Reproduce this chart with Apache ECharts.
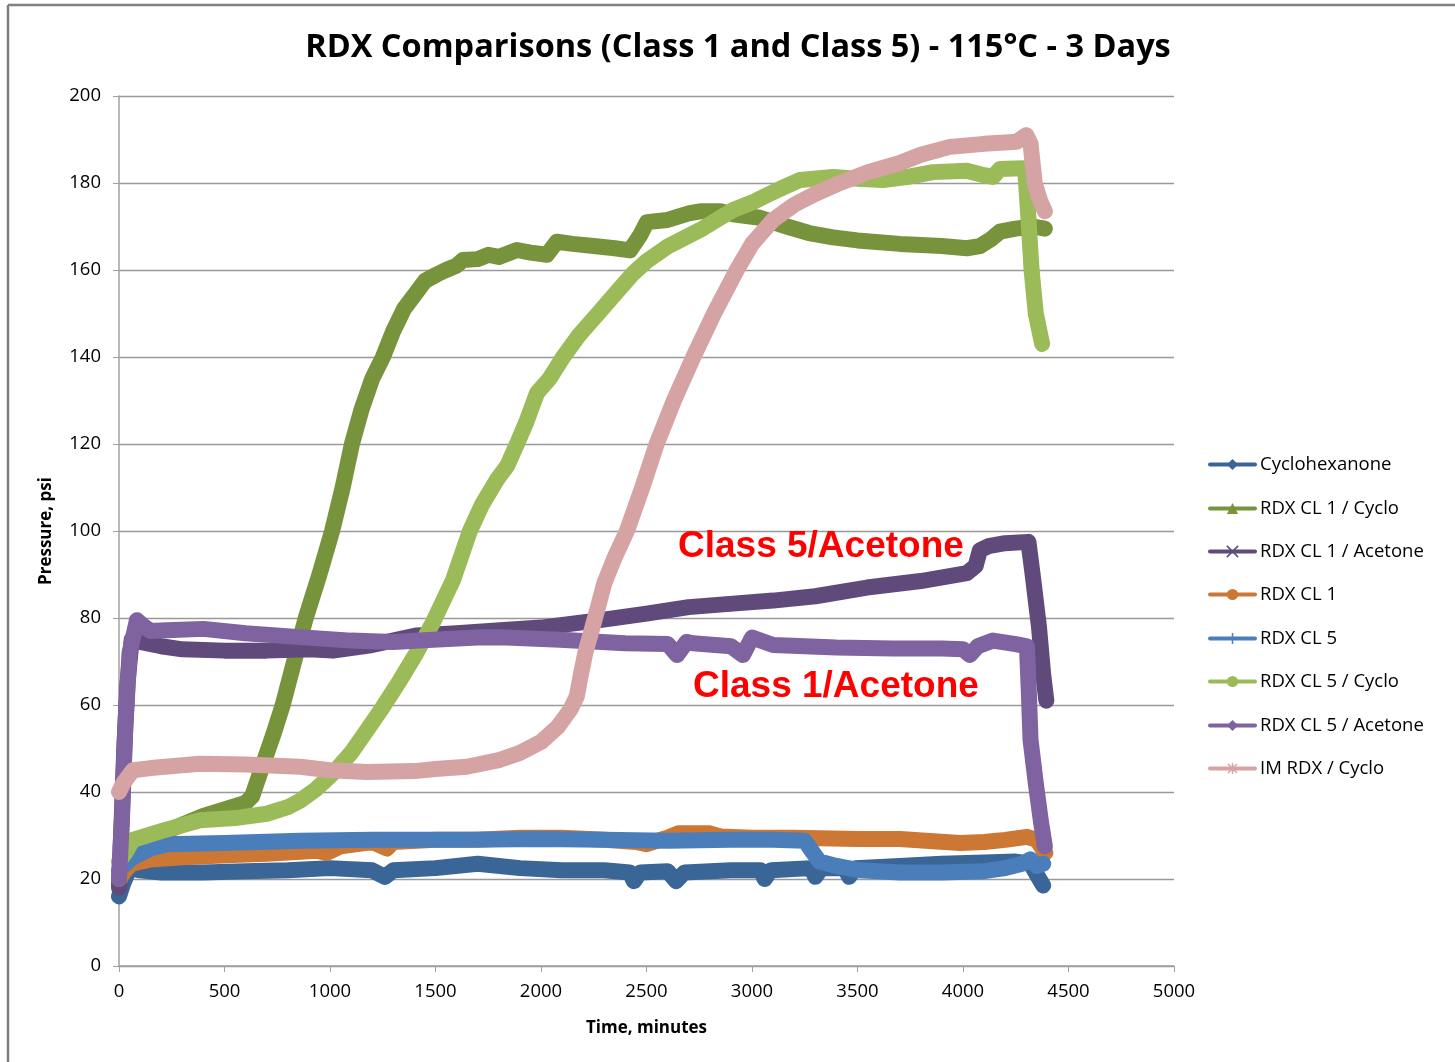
<!DOCTYPE html>
<html>
<head>
<meta charset="utf-8">
<script src="https://cdn.jsdelivr.net/npm/echarts@6/dist/echarts.min.js"></script>
<style>
html,body{margin:0;padding:0;background:#fff;}
#chart{width:1455px;height:1062px;}
</style>
</head>
<body>
<div id="chart"></div>
<script>
// ---- data (minutes, psi) ----
const seriesNames = ['Cyclohexanone','RDX CL 1 / Cyclo','RDX CL 1 / Acetone','RDX CL 1','RDX CL 5','RDX CL 5 / Cyclo','RDX CL 5 / Acetone','IM RDX / Cyclo'];
const xTicks = [0,500,1000,1500,2000,2500,3000,3500,4000,4500,5000];
const yTicks = [0,20,40,60,80,100,120,140,160,180,200];

const cyclohexanone = [[0,16],[20,19],[50,22.5],[100,22],[200,21.5],[400,21.5],[600,21.8],[800,22],[1000,22.5],[1200,22],[1260,20.5],[1300,22],[1500,22.5],[1700,23.5],[1900,22.5],[2100,22],[2300,22],[2420,21.5],[2440,19.5],[2470,21.5],[2600,21.8],[2640,19.5],[2680,21.5],[2900,22],[3040,22],[3060,20],[3090,22],[3280,22.5],[3300,20.5],[3330,22.5],[3440,22.5],[3460,20.5],[3490,22.5],[3700,23],[3900,23.5],[4100,23.8],[4250,24],[4320,23.5],[4350,21],[4380,18.5]];

const rdxCl1Cyclo = [[0,19],[30,24],[60,27.5],[100,29],[200,30.5],[300,32.5],[400,34.5],[500,36],[600,37.5],[631,39],[680,46],[730,53],[776,60],[830,70],[885,80],[950,90],[1010,100],[1060,110],[1104,120],[1150,128],[1200,135],[1251,140],[1300,146],[1350,151],[1412,155],[1450,157.5],[1507,159],[1550,160],[1600,161],[1630,162.3],[1700,162.5],[1750,163.5],[1800,163],[1886,164.6],[1950,164],[2028,163.5],[2075,166.5],[2150,166],[2250,165.5],[2350,165],[2422,164.5],[2470,168],[2502,171],[2600,171.5],[2700,173],[2754,173.5],[2850,173.5],[2910,172.8],[3038,172],[3100,171],[3165,170],[3270,168.5],[3384,167.5],[3500,166.8],[3701,166],[3900,165.5],[4018,165],[4080,165.5],[4130,167],[4175,168.8],[4250,169.5],[4332,170],[4388,169.5]];

const rdxCl1Acetone = [[0,18],[10,30],[25,50],[40,65],[60,75],[100,74.5],[200,73.5],[300,72.8],[500,72.5],[700,72.5],[900,72.8],[1014,72.5],[1200,73.8],[1412,76],[1600,76.5],[1806,77.2],[2000,77.8],[2280,79.5],[2500,81],[2700,82.5],[2910,83.3],[3100,84],[3300,85],[3545,87],[3800,88.5],[4018,90.3],[4060,92],[4080,95.6],[4120,96.5],[4200,97.2],[4310,97.5],[4330,90],[4360,78],[4380,67],[4395,61]];

const rdxCl1 = [[0,20],[30,22],[60,23.5],[150,24.5],[300,25],[540,25.5],[700,25.8],[937,26.5],[985,26],[1050,27.5],[1200,28.5],[1270,27],[1300,28.5],[1500,29],[1700,29],[1900,29.5],[2100,29.5],[2300,29],[2450,28.5],[2500,28],[2600,29.5],[2650,30.5],[2800,30.5],[2850,29.8],[3000,29.5],[3200,29.5],[3500,29.2],[3700,29.2],[3986,28.3],[4100,28.5],[4200,29],[4303,29.7],[4350,29],[4390,26]];

const rdxCl5 = [[0,22],[30,23.5],[66,25],[150,27],[227,28],[500,28.3],[858,28.8],[1200,29],[1649,29],[2000,29.2],[2300,29],[2600,28.8],[2900,29],[3100,29],[3250,28.8],[3290,26],[3320,24],[3400,23],[3512,22],[3700,21.5],[3900,21.5],[4100,21.8],[4200,22.5],[4280,23.5],[4320,24.5],[4350,23],[4380,23.5]];

const rdxCl5Cyclo = [[0,24],[30,26],[66,29],[200,31],[384,33.5],[550,34],[700,35],[800,36.5],[858,38],[930,40.5],[1014,44.3],[1100,49],[1175,54.2],[1250,59.5],[1332,65.7],[1410,72],[1488,79],[1583,88.7],[1663,100],[1720,106],[1790,111.7],[1840,115],[1886,120],[1930,125],[1981,131.7],[2040,135],[2105,140],[2180,145],[2280,150.5],[2360,155],[2436,159.2],[2500,162],[2597,165.3],[2754,169.2],[2910,173.8],[3000,175.5],[3071,177.2],[3150,179],[3227,180.7],[3384,181.4],[3500,181],[3621,180.7],[3750,181.5],[3858,182.5],[4018,182.8],[4100,181.8],[4142,181.4],[4175,183.2],[4285,183.4],[4295,183],[4310,172],[4325,160],[4345,150],[4375,143]];

const rdxCl5Acetone = [[0,20],[15,35],[30,55],[50,72],[85,79.5],[120,78],[150,77],[227,77.2],[400,77.5],[600,76.5],[858,75.6],[1100,74.8],[1300,74.5],[1488,75],[1700,75.5],[1806,75.6],[2090,75],[2400,74.2],[2600,74],[2645,71.5],[2690,74.5],[2720,74.2],[2900,73.5],[2957,71.5],[3000,75.5],[3100,73.8],[3400,73.2],[3668,73],[3900,73],[4000,72.8],[4033,71.5],[4070,73.5],[4142,74.8],[4250,74],[4303,73.5],[4312,63],[4320,52],[4345,42],[4370,33],[4388,27.5]];

const imRdxCyclo = [[0,40],[20,42],[66,45],[150,45.5],[384,46.5],[600,46.3],[858,45.8],[1000,45],[1175,44.6],[1400,44.8],[1500,45.3],[1649,45.8],[1806,47.4],[1900,49],[2000,51.5],[2080,55],[2140,59],[2170,62],[2185,66],[2210,72],[2256,80],[2300,88],[2350,94],[2407,100],[2480,110],[2548,120],[2630,130],[2722,140],[2820,150],[2928,160],[3000,166],[3100,171.5],[3200,175],[3300,177.5],[3417,180],[3550,182.5],[3701,184.6],[3800,186.5],[3938,188.3],[4100,189],[4255,189.5],[4300,191],[4320,189],[4340,180],[4365,176],[4388,173.5]];

const annotations = ['Class 5/Acetone','Class 1/Acetone'];

// ---- styling ----
const colors = ['#3A6697','#77933C','#604A7B','#CC7733','#4A7EBB','#9BBB59','#7F63A1','#D5A3A3'];
const symbols = ['diamond','triangle','path://M0,0L1,1M1,0L0,1','circle','path://M0.5,0L0.5,1M0,0.5L1,0.5','none','diamond','path://M0.5,0L0.5,1M0,0.5L1,0.5M0.1,0.1L0.9,0.9M0.9,0.1L0.1,0.9'];
const allData = [cyclohexanone,rdxCl1Cyclo,rdxCl1Acetone,rdxCl1,rdxCl5,rdxCl5Cyclo,rdxCl5Acetone,imRdxCyclo];
const strokeSym = [false,false,true,false,true,false,false,true];

const chart = echarts.init(document.getElementById('chart'), null, {renderer:'canvas'});
const font = 'Open Sans';

const series = seriesNames.map((name,i)=>({
  name: name,
  type: 'line',
  data: allData[i],
  color: colors[i],
  symbol: symbols[i],
  symbolSize: strokeSym[i] ? 14 : 13,
  showSymbol: false,
  smooth: false,
  lineStyle: {width: 16, color: colors[i], join: 'round', cap: 'round'},
  itemStyle: {color: colors[i], borderColor: colors[i], borderWidth: strokeSym[i] ? 1.5 : 0},
  emphasis: {disabled: true},
  animation: false,
  z: 2 + i
}));

const legendTops = [455, 499, 542, 585, 629, 672, 716, 759];
const legends = seriesNames.map((name,i)=>({
  id: 'lg' + i,
  orient: 'horizontal', left: 1208, top: legendTops[i],
  itemWidth: 45, itemHeight: 14, itemGap: 0, padding: 0,
  data: [name],
  textStyle: {fontFamily: font, fontSize: 18.5, color: '#000'},
  lineStyle: {width: 4},
  itemStyle: {borderWidth: strokeSym[i] ? 1.5 : 0},
  selectedMode: false
}));

chart.setOption({
  animation: false,
  backgroundColor: '#fff',
  title: {
    text: 'RDX Comparisons (Class 1 and Class 5) - 115\u00B0C - 3 Days',
    left: 733, top: 26, textAlign: 'center',
    textStyle: {fontFamily: font, fontWeight: 'bold', fontSize: 32.5, color: '#000'}
  },
  grid: {left: 119, right: 281, top: 96, bottom: 96, containLabel: false},
  legend: legends,
  xAxis: {
    type: 'value', min: 0, max: 5000, interval: 500,
    name: 'Time, minutes', nameLocation: 'middle', nameGap: 54,
    nameTextStyle: {fontFamily: font, fontWeight: 'bold', fontSize: 17, color: '#000'},
    axisLine: {show: true, onZero: false, lineStyle: {color: '#A0A0A0', width: 1.5}},
    axisTick: {show: true, length: 6, lineStyle: {color: '#A0A0A0'}},
    axisLabel: {fontFamily: font, fontSize: 18.5, color: '#000', margin: 16,
      formatter: v => xTicks.includes(v) ? String(v) : ''},
    splitLine: {show: false}
  },
  yAxis: {
    type: 'value', min: 0, max: 200, interval: 20,
    name: 'Pressure, psi', nameLocation: 'middle', nameGap: 64, nameRotate: 90,
    nameTextStyle: {fontFamily: font, fontWeight: 'bold', fontSize: 17, color: '#000'},
    axisLine: {show: true, lineStyle: {color: '#A0A0A0', width: 1.5}},
    axisTick: {show: true, length: 6, inside: false, lineStyle: {color: '#A0A0A0'}},
    axisLabel: {fontFamily: font, fontSize: 18.5, color: '#000', margin: 18,
      formatter: v => yTicks.includes(v) ? String(v) : ''},
    splitLine: {show: true, lineStyle: {color: '#999', width: 1.3}}
  },
  graphic: [
    {type: 'line', shape: {x1: 8, y1: 5, x2: 8, y2: 1062}, style: {stroke: '#808080', lineWidth: 2.5}},
    {type: 'line', shape: {x1: 8, y1: 5, x2: 1455, y2: 5}, style: {stroke: '#808080', lineWidth: 2.5}},
    {type: 'text', left: 678, top: 528, z: 100,
      style: {text: annotations[0], font: 'bold 37px "Liberation Sans", Arial, sans-serif', fill: '#FF0000'}},
    {type: 'text', left: 693, top: 668, z: 100,
      style: {text: annotations[1], font: 'bold 37px "Liberation Sans", Arial, sans-serif', fill: '#FF0000'}}
  ],
  series: series
});
</script>
</body>
</html>
